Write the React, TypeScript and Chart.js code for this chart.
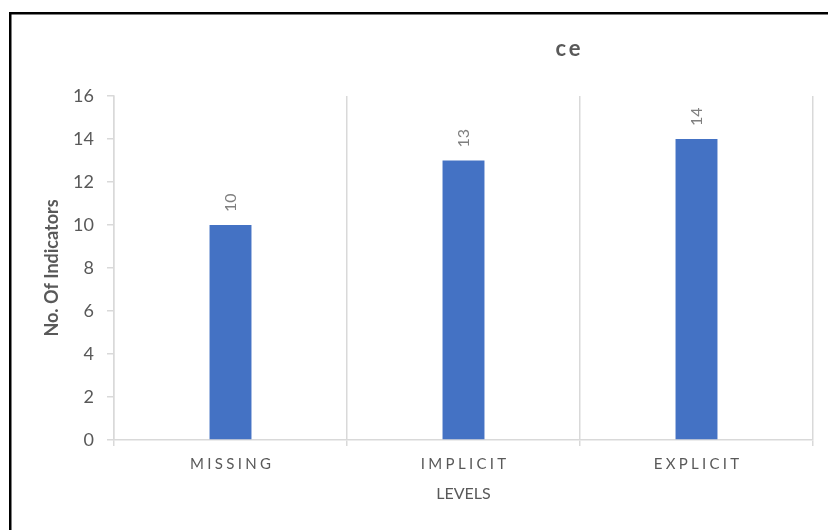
import { useEffect, useRef } from "react";
import { Chart, registerables } from "chart.js";

Chart.register(...registerables);

// Chart content
const chartTitle = "ce";
const levels = ["MISSING", "IMPLICIT", "EXPLICIT"];
const indicatorCounts = [10, 13, 14];
const yMin = 0;
const yMax = 16;
const yStep = 2;
const xAxisTitle = "LEVELS";
const yAxisTitle = "No. Of Indicators";

const FONT = "Lato, 'Open Sans', sans-serif";
const TEXT = "#595959";
const GRID = "#d9d9d9";
const BAR = "#4472C4";

// Black frame along the top and left edges
const framePlugin = {
  id: "frame",
  beforeDraw(chart: any) {
    const { ctx, width, height } = chart;
    ctx.save();
    ctx.fillStyle = "#ffffff";
    ctx.fillRect(0, 0, width, height);
    ctx.fillStyle = "#000000";
    ctx.fillRect(9, 12, width - 9, 2.5);
    ctx.fillRect(9, 12, 2.5, height - 12);
    ctx.restore();
  },
};

// Spaced title and category labels
const textPlugin = {
  id: "spacedText",
  afterDraw(chart: any) {
    const { ctx } = chart;
    const xScale = chart.scales.x;
    ctx.save();
    ctx.fillStyle = TEXT;
    ctx.textBaseline = "middle";
    ctx.textAlign = "center";

    ctx.letterSpacing = "3px";
    ctx.font = `bold 22px ${FONT}`;
    ctx.fillText(chartTitle, 568 + 1.5, 49);

    ctx.letterSpacing = "3.3px";
    ctx.font = `15px ${FONT}`;
    levels.forEach((label, i) => {
      const x = xScale.getPixelForValue(i);
      ctx.fillText(label, x + 1.6, 464);
    });
    ctx.restore();
  },
};

// Rotated value labels above each bar
const valueLabelPlugin = {
  id: "valueLabels",
  afterDatasetsDraw(chart: any) {
    const { ctx } = chart;
    const meta = chart.getDatasetMeta(0);
    ctx.save();
    ctx.fillStyle = "#7f7f7f";
    ctx.font = `16px ${FONT}`;
    ctx.textAlign = "left";
    ctx.textBaseline = "middle";
    meta.data.forEach((bar: any, i: number) => {
      ctx.save();
      ctx.translate(bar.x, bar.y - 13);
      ctx.rotate(-Math.PI / 2);
      ctx.fillText(String(indicatorCounts[i]), 0, 0);
      ctx.restore();
    });
    ctx.restore();
  },
};

export default function App() {
  const canvasRef = useRef<HTMLCanvasElement | null>(null);

  useEffect(() => {
    if (!canvasRef.current) return;
    const chart = new Chart(canvasRef.current, {
      type: "bar",
      data: {
        labels: levels,
        datasets: [
          {
            data: indicatorCounts,
            backgroundColor: BAR,
            barPercentage: 0.18,
            categoryPercentage: 1,
          },
        ],
      },
      options: {
        animation: false,
        responsive: false,
        devicePixelRatio: 1,
        layout: { padding: { top: 96, right: 15, left: 0, bottom: 0 } },
        plugins: {
          legend: { display: false },
          tooltip: { enabled: false },
          title: { display: false },
        },
        scales: {
          x: {
            offset: true,
            grid: {
              offset: true,
              color: GRID,
              lineWidth: 1.5,
              tickLength: 6,
              drawTicks: true,
            },
            border: { display: true, color: GRID, width: 1.5 },
            ticks: { display: false },
            title: {
              display: true,
              text: xAxisTitle,
              color: TEXT,
              font: { family: FONT, size: 16 },
              padding: { top: 0, bottom: 27 },
            },
            afterFit(scale: any) {
              scale.height = 90;
            },
          },
          y: {
            min: yMin,
            max: yMax,
            grid: {
              drawOnChartArea: false,
              drawTicks: true,
              tickLength: 7,
              color: GRID,
              lineWidth: 1.5,
            },
            border: { display: true, color: GRID, width: 1.5 },
            ticks: {
              stepSize: yStep,
              color: TEXT,
              padding: 13,
              font: { family: FONT, size: 18 },
            },
            title: {
              display: true,
              text: yAxisTitle,
              color: TEXT,
              font: { family: FONT, size: 18, weight: "bold" },
              padding: { top: 41, bottom: 0 },
            },
            afterFit(scale: any) {
              scale.width = 114;
            },
          },
        },
      },
      plugins: [framePlugin, textPlugin, valueLabelPlugin],
    });
    return () => chart.destroy();
  }, []);

  return (
    <canvas
      ref={canvasRef}
      width={828}
      height={530}
      style={{ position: "absolute", left: 0, top: 0, display: "block" }}
    />
  );
}
